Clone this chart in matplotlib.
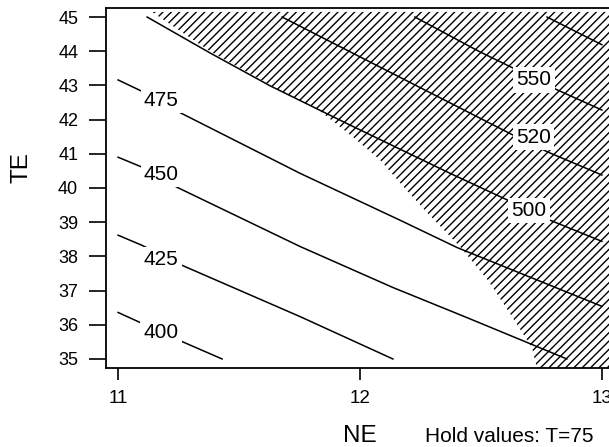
import numpy as np
import matplotlib.pyplot as plt

plt.rcParams['font.family'] = ['Liberation Sans', 'DejaVu Sans']
plt.rcParams['hatch.linewidth'] = 1.0

# contour traces (NE, TE)
levels = [400, 425, 450, 475, 500, 520, 550, 575]
ne_400 = [11.0, 11.264, 11.43]
te_400 = [36.36, 35.51, 35.0]
ne_425 = [11.0, 11.10, 11.264, 11.752, 12.136]
te_425 = [38.62, 38.32, 37.74, 36.24, 35.0]
ne_450 = [11.0, 11.099, 11.244, 11.752, 12.136, 12.442, 12.702, 12.855]
te_450 = [40.90, 40.61, 40.02, 38.29, 37.09, 36.21, 35.45, 35.0]
ne_475 = [11.0, 11.095, 11.26, 11.752, 12.165, 12.401, 13.0]
te_475 = [43.16, 42.84, 42.19, 40.43, 39.06, 38.26, 36.54]
ne_500 = [11.12, 11.38, 11.628, 11.959, 12.372, 12.612, 12.785, 13.0]
te_500 = [45.0, 43.95, 42.99, 41.84, 40.43, 39.64, 39.06, 38.44]
ne_520 = [11.678, 12.632, 12.777, 13.0]
te_520 = [45.0, 41.55, 41.05, 40.38]
ne_550 = [12.227, 12.496, 12.632, 12.806, 13.0]
te_550 = [45.0, 43.98, 43.51, 42.90, 42.28]
ne_575 = [12.773, 13.0]
te_575 = [45.0, 44.19]

ne_lines = [ne_400, ne_425, ne_450, ne_475, ne_500, ne_520, ne_550, ne_575]
te_lines = [te_400, te_425, te_450, te_475, te_500, te_520, te_550, te_575]

# label positions
lab_text = ['400', '425', '450', '475', '500', '520', '550']
lab_ne = [11.178, 11.178, 11.178, 11.178, 12.698, 12.719, 12.719]
lab_te = [35.77, 37.91, 40.40, 42.55, 39.35, 41.49, 43.16]

# boundary of the hatched (infeasible) region
bnd_ne = [11.14, 11.38, 11.628, 11.835, 11.971, 12.083, 12.178, 12.28, 12.413, 12.529, 12.620, 12.711, 12.731]
bnd_te = [45.15, 44.0, 43.01, 42.25, 41.49, 40.82, 40.05, 39.26, 38.29, 37.30, 36.33, 35.33, 34.74]

xticks = [11, 12, 13]
yticks = list(range(35, 46))

fig = plt.figure(figsize=(6.09, 4.47), dpi=100)
ax = fig.add_axes([106/609, 1 - 368/447, (614 - 106)/609, (368 - 8)/447])
ax.set_xlim(10.95, 13.05)
ax.set_ylim(34.736, 45.264)

poly_ne = bnd_ne + [13.2, 13.2]
poly_te = bnd_te + [34.74, 45.15]
ax.fill(poly_ne, poly_te, facecolor='none', edgecolor='black', hatch='////', linewidth=0, zorder=1)

for xs, ys in zip(ne_lines, te_lines):
	ax.plot(xs, ys, color='black', linewidth=1.1, zorder=2)

for t, x, y in zip(lab_text, lab_ne, lab_te):
	ax.text(x, y, t, fontsize=15, ha='center', va='center', zorder=3,
		bbox=dict(boxstyle='square,pad=0.15', facecolor='white', edgecolor='none'))

ax.set_xticks(xticks)
ax.set_yticks(yticks)
ax.tick_params(axis='y', length=12, width=1.2, pad=8, labelsize=13)
ax.tick_params(axis='x', length=8.5, width=1.2, pad=7, labelsize=13.5)
for s in ax.spines.values():
	s.set_linewidth(1.3)

ax.set_xlabel('NE', fontsize=17.5, va='baseline')
ax.set_ylabel('TE', fontsize=17.5)
ax.xaxis.set_label_coords(0.5, (368 - 442) / 360)
ax.yaxis.set_label_coords(-0.145, 0.558)

fig.text(425/609, 1 - 442/447, 'Hold values: T=75', fontsize=15, ha='left', va='baseline')

fig.savefig('out.png', dpi=100)
